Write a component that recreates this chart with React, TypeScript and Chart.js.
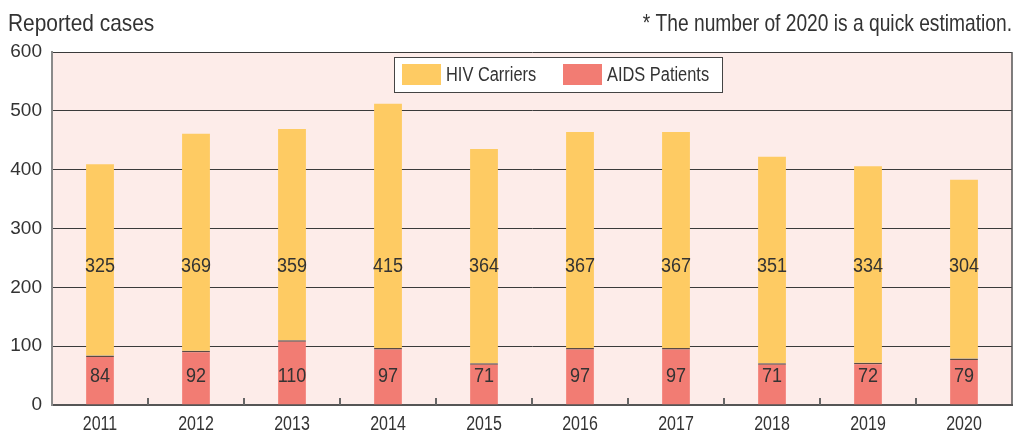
import React, { useEffect, useRef } from "react";
import { Chart, registerables } from "chart.js";

Chart.register(...registerables);

const years = ["2011", "2012", "2013", "2014", "2015", "2016", "2017", "2018", "2019", "2020"];
const aidsPatients = [84, 92, 110, 97, 71, 97, 97, 71, 72, 79];
const hivCarriers = [325, 369, 359, 415, 364, 367, 367, 351, 334, 304];
const yTicks = [0, 100, 200, 300, 400, 500, 600];
const titleText = "Reported cases";
const noteText = "* The number of 2020 is a quick estimation.";
const seriesNames = ["HIV Carriers", "AIDS Patients"];

const FONT = "'Liberation Sans', Arial, sans-serif";
const YELLOW = "#FECB63";
const RED = "#F27C73";
const BG = "#FDECE9";
const TEXT = "#333333";

function drawScaled(ctx: any, text: string, x: number, y: number, size: number, sx: number, align: string) {
  ctx.save();
  ctx.font = `${size}px ${FONT}`;
  ctx.textAlign = align;
  ctx.textBaseline = "middle";
  ctx.translate(x, y);
  ctx.scale(sx, 1);
  ctx.fillText(text, 0, 0);
  ctx.restore();
}

const decorPlugin = {
  id: "decor",
  beforeDraw(chart: any) {
    const { ctx, chartArea } = chart;
    ctx.save();
    ctx.fillStyle = BG;
    ctx.fillRect(chartArea.left, chartArea.top, chartArea.right - chartArea.left, chartArea.bottom - chartArea.top);
    ctx.restore();
  },
  afterDraw(chart: any) {
    const { ctx, chartArea, scales } = chart;
    const xs = scales.x;
    const ys = scales.y;
    ctx.save();
    // right border
    ctx.strokeStyle = "#555";
    ctx.lineWidth = 1.5;
    ctx.beginPath();
    ctx.moveTo(chartArea.right, chartArea.top);
    ctx.lineTo(chartArea.right, chartArea.bottom);
    ctx.stroke();
    // inward x ticks between categories
    ctx.strokeStyle = "#666";
    ctx.lineWidth = 2;
    const step = xs.getPixelForValue(1) - xs.getPixelForValue(0);
    for (let i = 1; i < years.length; i++) {
      const x = Math.round(xs.getPixelForValue(i) - step / 2);
      ctx.beginPath();
      ctx.moveTo(x, chartArea.bottom);
      ctx.lineTo(x, chartArea.bottom - 7);
      ctx.stroke();
    }
    ctx.fillStyle = TEXT;
    // value labels and category labels
    for (let i = 0; i < years.length; i++) {
      const x = xs.getPixelForValue(i);
      drawScaled(ctx, String(hivCarriers[i]), x, ys.getPixelForValue(236), 20, 0.9, "center");
      drawScaled(ctx, String(aidsPatients[i]), x, ys.getPixelForValue(49), 20, 0.9, "center");
      drawScaled(ctx, years[i], x, chartArea.bottom + 19, 20, 0.8, "center");
    }
    // legend
    const lx = 394, ly = 57, lw = 328, lh = 35;
    ctx.fillStyle = "#ffffff";
    ctx.fillRect(lx, ly, lw, lh);
    ctx.strokeStyle = "#444";
    ctx.lineWidth = 1;
    ctx.strokeRect(lx + 0.5, ly + 0.5, lw, lh);
    ctx.fillStyle = YELLOW;
    ctx.fillRect(402, 64, 39, 21);
    ctx.fillStyle = RED;
    ctx.fillRect(563, 64, 39, 21);
    ctx.fillStyle = TEXT;
    drawScaled(ctx, seriesNames[0], 446, 75, 20, 0.82, "left");
    drawScaled(ctx, seriesNames[1], 607, 75, 20, 0.82, "left");
    // titles
    drawScaled(ctx, titleText, 8, 24, 24, 0.87, "left");
    drawScaled(ctx, noteText, 1012, 24, 24, 0.8, "right");
    ctx.restore();
  },
};

export default function App() {
  const ref = useRef<HTMLCanvasElement>(null);
  useEffect(() => {
    if (!ref.current) return;
    const chart = new Chart(ref.current, {
      type: "bar",
      data: {
        labels: years,
        datasets: [
          {
            label: seriesNames[1],
            data: aidsPatients,
            backgroundColor: RED,
            borderColor: "#5a4a44",
            borderWidth: { top: 1.5, left: 0, right: 0, bottom: 0 },
            borderSkipped: false,
            barPercentage: 0.29,
            categoryPercentage: 1,
          },
          {
            label: seriesNames[0],
            data: hivCarriers,
            backgroundColor: YELLOW,
            borderWidth: 0,
            barPercentage: 0.29,
            categoryPercentage: 1,
          },
        ],
      },
      options: {
        animation: false,
        responsive: true,
        maintainAspectRatio: false,
        layout: { padding: { top: 52, right: 2, bottom: 0, left: 0 } },
        plugins: { legend: { display: false }, tooltip: { enabled: false }, title: { display: false } },
        scales: {
          x: {
            stacked: true,
            offset: true,
            grid: { display: false, drawTicks: false },
            border: { display: true, color: "#555", width: 2 },
            ticks: { color: "rgba(0,0,0,0)", font: { family: FONT, size: 18 }, padding: 8 },
            afterFit: (axis: any) => {
              axis.height = 28;
            },
          },
          y: {
            stacked: true,
            min: 0,
            max: 600,
            afterBuildTicks: (axis: any) => {
              axis.ticks = yTicks.map((v) => ({ value: v }));
            },
            afterFit: (axis: any) => {
              axis.width = 52;
            },
            grid: { color: "#3a3a3a", lineWidth: 1, drawTicks: false },
            border: { display: true, color: "#8a8a8a", width: 2 },
            ticks: { color: TEXT, font: { family: FONT, size: 19 }, padding: 10 },
          },
        },
      },
      plugins: [decorPlugin],
    });
    return () => chart.destroy();
  }, []);
  return (
    <div style={{ position: "fixed", left: 0, top: 0, width: 1014, height: 433, background: "#fff" }}>
      <canvas ref={ref} />
    </div>
  );
}
